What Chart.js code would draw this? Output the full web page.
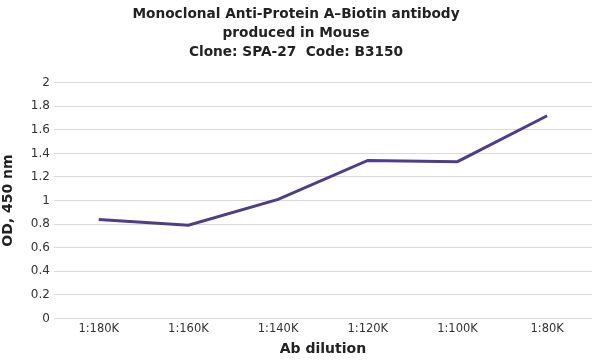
<!DOCTYPE html>
<html>
<head>
<meta charset="utf-8">
<script src="https://cdn.jsdelivr.net/npm/chart.js@4"></script>
<style>
html,body{margin:0;padding:0;background:#fff;}
#wrap{width:592px;height:360px;}
</style>
</head>
<body>
<div id="wrap"><canvas id="c" width="592" height="360"></canvas></div>
<script>
const categories = ["1:180K","1:160K","1:140K","1:120K","1:100K","1:80K"];
const odValues = [0.84, 0.79, 1.01, 1.34, 1.33, 1.72];
const titleLines = ["Monoclonal Anti-Protein A\u2013Biotin antibody","produced in Mouse","Clone: SPA-27  Code: B3150"];
const yTitle = "OD, 450 nm";
const xTitle = "Ab dilution";

new Chart(document.getElementById('c'), {
  type: 'line',
  data: {
    labels: categories,
    datasets: [{
      data: odValues,
      borderColor: '#503d8a',
      borderWidth: 3,
      pointRadius: 0,
      tension: 0,
      fill: false
    }]
  },
  options: {
    responsive: false,
    animation: false,
    layout: {padding: {left: 0, right: 0, top: 5, bottom: 2}},
    plugins: {
      legend: {display: false},
      tooltip: {enabled: false},
      title: {
        display: true,
        text: titleLines,
        color: '#222',
        font: {family: 'DejaVu Sans', size: 13.7, weight: 'bold', lineHeight: 1.38},
        padding: {top: 0, bottom: 21}
      }
    },
    scales: {
      x: {
        offset: true,
        grid: {display: false, drawTicks: false},
        border: {display: false},
        ticks: {color: '#333', font: {family: 'DejaVu Sans', size: 11.5}, padding: 4},
        title: {display: true, text: xTitle, color: '#222', font: {family: 'DejaVu Sans', size: 14, weight: 'bold'}, padding: {top: 1, bottom: 0}}
      },
      y: {
        min: 0, max: 2,
        ticks: {stepSize: 0.2, color: '#333', font: {family: 'DejaVu Sans', size: 12}, padding: 4,
          callback: function(v){ return String(Number(v.toFixed(1))); }},
        grid: {color: '#d9d9d9', lineWidth: 1, drawTicks: false},
        border: {display: false},
        title: {display: true, text: yTitle, color: '#222', font: {family: 'DejaVu Sans', size: 14, weight: 'bold'}, padding: {top: 0, bottom: 10}}
      }
    }
  }
});
</script>
</body>
</html>
